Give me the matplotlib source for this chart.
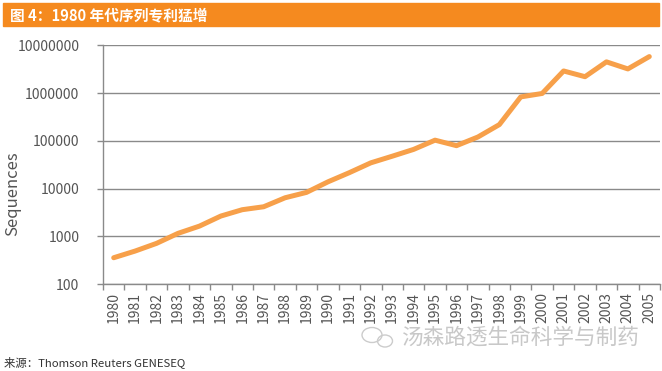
import matplotlib
matplotlib.use('Agg')
import matplotlib.pyplot as plt
from matplotlib.patches import Rectangle, Ellipse
import numpy as np

plt.rcParams['font.family'] = ['Noto Sans CJK SC', 'DejaVu Sans']

# data (log scale)
years = [str(y) for y in range(1980, 2006)]
sequences = [355, 490, 710, 1150, 1630, 2650, 3600, 4150, 6400, 8300,
             13800, 21500, 34500, 47500, 66000, 103000, 79000, 120000, 218000, 830000,
             980000, 2900000, 2200000, 4500000, 3200000, 5800000]
y_ticks = [100, 1000, 10000, 100000, 1000000, 10000000]

title_text = '图 4：1980 年代序列专利猛增'
source_text = '来源：Thomson Reuters GENESEQ'
watermark_text = '汤森路透生命科学与制药'

fig = plt.figure(figsize=(6.62, 3.71), dpi=100)
ax = fig.add_axes([103 / 662, 1 - 284 / 371, 557 / 662, (284 - 45.3) / 371])

x = np.arange(len(years))
ax.plot(x, sequences, color='#F7A04A', linewidth=3.6, solid_capstyle='round',
        solid_joinstyle='round', zorder=3)

ax.set_yscale('log')
ax.set_ylim(100, 10000000)
ax.set_yticks(y_ticks)
ax.set_yticklabels([str(v) for v in y_ticks])
ax.minorticks_off()
ax.yaxis.grid(True, color='#8a8a8a', linewidth=1)
ax.set_axisbelow(True)

ax.set_xlim(-0.5, len(years) - 0.5)
ax.set_xticks(x)
ax.set_xticklabels(years, rotation=90, fontsize=10, color='#555555')
ax.tick_params(axis='x', length=0, pad=6)
ax.set_xticks(np.arange(len(years) + 1) - 0.5, minor=True)
ax.tick_params(axis='x', which='minor', length=4, color='#8a8a8a', width=1)
ax.tick_params(axis='y', length=4, color='#8a8a8a', width=1, labelsize=10,
               labelcolor='#555555', pad=13)

for side in ['top', 'right']:
    ax.spines[side].set_visible(False)
for side in ['left', 'bottom']:
    ax.spines[side].set_color('#8a8a8a')
    ax.spines[side].set_linewidth(1)

ax.set_ylabel('Sequences', fontsize=12, color='#555555')
ax.yaxis.set_label_coords(-0.147, 0.377)

# header bar
fig.patches.append(Rectangle((3 / 662, 1 - 26 / 371), 656 / 662, 23 / 371,
                             transform=fig.transFigure, color='#F58A1F', zorder=0))
fig.text(10 / 662, 1 - 15 / 371, title_text, color='white', fontsize=10.6,
         fontweight='bold', va='center', ha='left')

# footer
fig.text(4 / 662, 1 - 362 / 371, source_text, color='#333333', fontsize=8.2,
         va='center', ha='left')

# watermark
fig.patches.append(Ellipse((372 / 662, 1 - 335 / 371), 20 / 662, 15 / 371,
                           transform=fig.transFigure, fill=False,
                           edgecolor='#cccccc', linewidth=1))
fig.patches.append(Ellipse((385 / 662, 1 - 341 / 371), 15 / 662, 12 / 371,
                           transform=fig.transFigure, fill=False,
                           edgecolor='#cccccc', linewidth=1))
fig.text(402 / 662, 1 - 338 / 371, watermark_text, color='#c8c8c8', fontsize=15.6,
         fontweight='light', va='center', ha='left')

fig.savefig('out.png', dpi=100)
